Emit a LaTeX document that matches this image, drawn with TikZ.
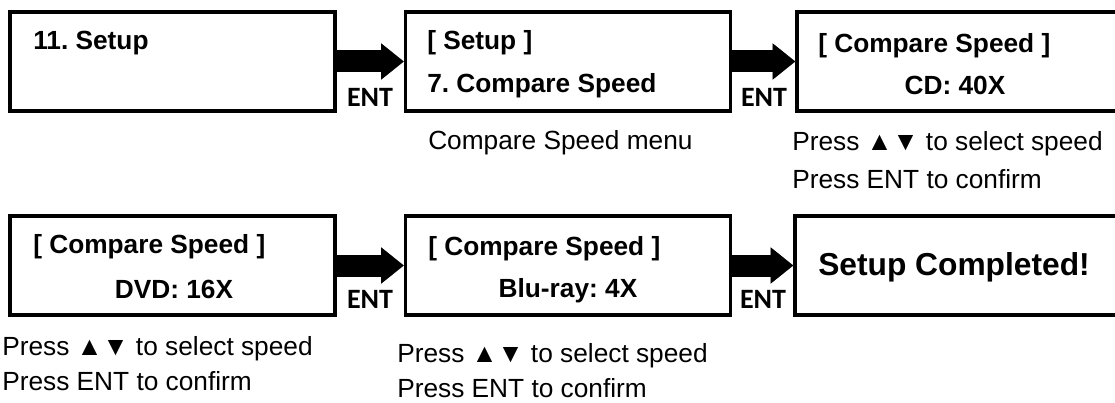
\documentclass[tikz,border=0pt]{standalone}
\usepackage{fontspec}
\setmainfont{Liberation Sans}
\newfontfamily\entfont{Carlito}
\usetikzlibrary{arrows.meta}
\frenchspacing

\begin{document}
\begin{tikzpicture}[x=0.75pt, y=-0.75pt,
    lcd/.style={draw, line width=2.4pt, minimum width=243.75pt, minimum height=74.25pt, inner sep=0pt},
    lcdtext/.style={inner sep=0pt, font=\fontsize{19.7}{23}\selectfont\bfseries},
    note/.style={inner sep=0pt, anchor=base west, font=\fontsize{19.7}{23}\selectfont},
    entkey/.style={inner sep=0pt, anchor=base, font=\fontsize{21}{24}\selectfont\entfont\bfseries},
    entarrow/.style={line width=16.5pt, -{Triangle[length=17pt, width=26pt]}},
    entshadow/.style={entarrow, black!30, xshift=2.25pt, yshift=-3pt}]
  \useasboundingbox (0,0) rectangle (1115,403);
  % first row
  \node[lcd] (A) at (172.5, 61.5) {};
  \node[lcd] (B) at (568, 61.5) {};
  \node[lcd] (C) at (959.5, 61.5) {};
  \node[lcdtext, anchor=base west] (A1) at (33, 50) {11. Setup};
  \node[lcdtext, anchor=base west] (B1) at (427, 50) {[ Setup ]};
  \node[lcdtext, anchor=base west] (B2) at (427, 93) {7. Compare Speed};
  \node[lcdtext, anchor=base west] (C1) at (818, 53) {[ Compare Speed ]};
  \node[lcdtext, anchor=base] (C2) at (955, 95) {CD: 40X};
  \node[note] (B3) at (428, 150) {Compare Speed menu};
  \node[note] (C3) at (792, 151) {Press ▲▼ to select speed};
  \node[note] (C4) at (792, 188) {Press ENT to confirm};
  \node[entkey] (K1) at (370, 107) {ENT};
  \node[entkey] (K2) at (764, 107) {ENT};
  % second row
  \node[lcd] (D) at (172.5, 265.5) {};
  \node[lcd] (E) at (568, 265.5) {};
  \node[lcd] (F) at (957.5, 265.5) {};
  \node[lcdtext, anchor=base west] (D1) at (33, 253) {[ Compare Speed ]};
  \node[lcdtext, anchor=base] (D2) at (174, 298) {DVD: 16X};
  \node[lcdtext, anchor=base west] (E1) at (428, 255) {[ Compare Speed ]};
  \node[lcdtext, anchor=base] (E2) at (568, 297) {Blu-ray: 4X};
  \node[lcdtext, anchor=base west, font=\fontsize{23.8}{27}\selectfont\bfseries] (F1) at (818, 275) {Setup Completed!};
  \node[note] (D3) at (2, 355) {Press ▲▼ to select speed};
  \node[note] (D4) at (2, 390) {Press ENT to confirm};
  \node[note] (E3) at (397, 362) {Press ▲▼ to select speed};
  \node[note] (E4) at (397, 397) {Press ENT to confirm};
  \node[entkey] (K3) at (370, 308) {ENT};
  \node[entkey] (K4) at (763, 308) {ENT};
  % arrows
  \draw[entshadow] (A.east) -- (B.west);
  \draw[entarrow] (A.east) -- (B.west);
  \draw[entshadow] (B.east) -- (C.west);
  \draw[entarrow] (B.east) -- (C.west);
  \draw[entshadow] (D.east) -- (E.west);
  \draw[entarrow] (D.east) -- (E.west);
  \draw[entshadow] (E.east) -- (F.west);
  \draw[entarrow] (E.east) -- (F.west);
\end{tikzpicture}
\end{document}
